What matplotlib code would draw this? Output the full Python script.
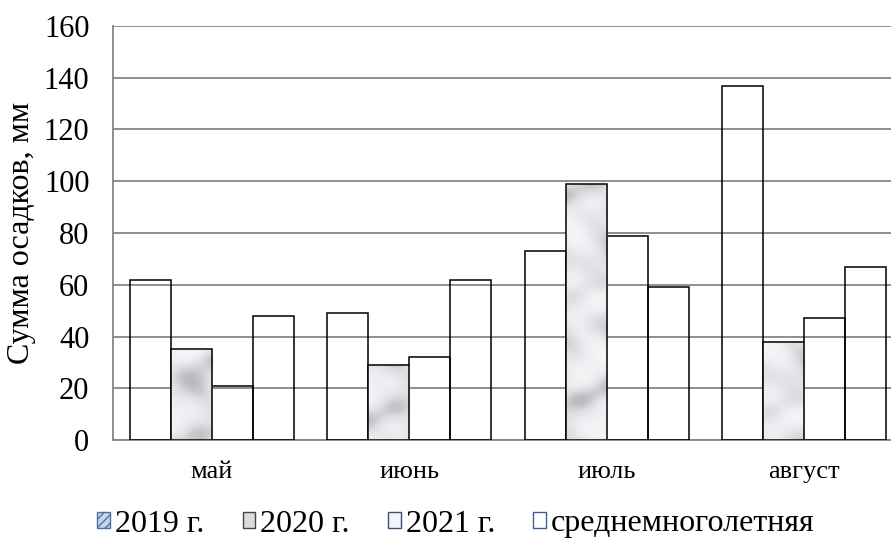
import numpy as np
import matplotlib
matplotlib.use('Agg')
import matplotlib.pyplot as plt
from matplotlib.patches import Patch
from matplotlib.colors import LinearSegmentedColormap

# Data (precipitation, mm)
months = ['май', 'июнь', 'июль', 'август']
series_names = ['2019 г.', '2020 г.', '2021 г.', 'среднемноголетняя']
vals_2019 = [62, 49, 73, 137]
vals_2020 = [35, 29, 99, 38]
vals_2021 = [21, 32, 79, 47]
vals_mean = [48, 62, 59, 67]

plt.rcParams['font.family'] = ['Liberation Serif', 'DejaVu Serif']

fig = plt.figure(figsize=(8.91, 5.49), dpi=100)
# plot area continues past the right edge of the picture (cropped, as in the original)
ax = fig.add_axes([113 / 891, 109 / 549, 790 / 891, 414 / 549])

x = np.arange(len(months))
w = 0.208
offsets = [-1.5 * w, -0.5 * w, 0.5 * w, 1.5 * w]

marble_cmap = LinearSegmentedColormap.from_list('marble', ['#b9babe', '#dcdde1', '#eeeef2', '#f6f6f8'])


def marble(h, wd, seed_shift):
    # soft grey marble-like texture for the 2020 bars
    yy, xx = np.mgrid[0:h, 0:wd] / 14.0
    yy = yy + seed_shift
    t = (np.sin(xx * 1.1 + yy * 0.7 + np.sin(yy * 0.9) * 1.8)
         + 0.8 * np.sin(xx * 0.5 - yy * 1.3 + np.cos(xx * 0.8) * 1.4)
         + 0.4 * np.sin((xx - yy) * 1.9))
    return t


bar_kw = dict(edgecolor='black', linewidth=1.1, zorder=3)
bars_2019 = ax.bar(x + offsets[0], vals_2019, w, facecolor='none', **bar_kw)
bars_2020 = ax.bar(x + offsets[1], vals_2020, w, facecolor='#e2e3e7', **bar_kw)
bars_2021 = ax.bar(x + offsets[2], vals_2021, w, facecolor='none', **bar_kw)
bars_mean = ax.bar(x + offsets[3], vals_mean, w, facecolor='none', **bar_kw)

for i, b in enumerate(bars_2020):
    x0, y0 = b.get_x(), b.get_y()
    npx = int(b.get_height() * 2.6)
    tex = marble(max(npx, 10), 41, i * 3.1)
    im = ax.imshow(tex, extent=(x0, x0 + b.get_width(), y0, y0 + b.get_height()),
                   cmap=marble_cmap, vmin=-2.2, vmax=2.2, aspect='auto',
                   interpolation='bilinear', zorder=3.5)
    im.set_clip_path(b)
    b.set_zorder(4)
    b.set_facecolor('none')

ax.set_xlim(-0.5, 3.5)
ax.set_ylim(0, 160)
ax.set_yticks(np.arange(0, 161, 20))
ax.set_xticks(x)
ax.set_xticklabels(months, fontsize=19)
ax.tick_params(axis='y', length=0, pad=17, labelsize=22)
ax.tick_params(axis='x', length=0, pad=15)

ax.grid(axis='y', color='#868686', linewidth=1.3)
ax.set_axisbelow(True)
for s in ['top', 'right']:
    ax.spines[s].set_visible(False)
for s in ['left', 'bottom']:
    ax.spines[s].set_color('#868686')
    ax.spines[s].set_linewidth(1.3)

ax.set_ylabel('Сумма осадков, мм', fontsize=23)
ax.yaxis.set_label_coords(-77 / 790, 0.5)

handles = [
    Patch(facecolor='#c8d6ec', edgecolor='#4f6f9f', hatch='////', linewidth=1.0),
    Patch(facecolor='#dcdce0', edgecolor='#444444', linewidth=1.0),
    Patch(facecolor='#f2f5fa', edgecolor='#3d4f6e', linewidth=1.0),
    Patch(facecolor='white', edgecolor='#3f5f8f', linewidth=1.0),
]
fig.legend(handles, series_names, loc='center', ncol=4,
           bbox_to_anchor=(456 / 891, 1 - 524 / 549), frameon=False,
           fontsize=23, handlelength=0.4, handleheight=0.35,
           handletextpad=0.15, columnspacing=1.2)

fig.savefig('out.png', dpi=100)
